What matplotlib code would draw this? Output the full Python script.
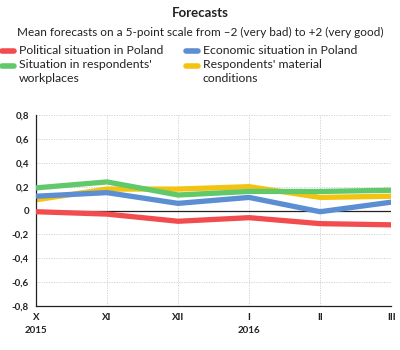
import matplotlib
matplotlib.use("Agg")
import matplotlib.pyplot as plt
from matplotlib.lines import Line2D

plt.rcParams['font.family'] = ['Lato', 'DejaVu Sans']

months = ["X\n2015", "XI", "XII", "I\n2016", "II", "III"]
political = [-0.01, -0.03, -0.09, -0.06, -0.11, -0.12]
economic = [0.12, 0.15, 0.06, 0.11, -0.01, 0.07]
workplaces = [0.19, 0.24, 0.13, 0.16, 0.16, 0.17]
material = [0.09, 0.18, 0.18, 0.20, 0.11, 0.12]

series_names = ["Political situation in Poland", "Economic situation in Poland",
                "Situation in respondents'\nworkplaces", "Respondents' material\nconditions"]

yticks = [-0.8, -0.6, -0.4, -0.2, 0, 0.2, 0.4, 0.6, 0.8]
ytick_labels = ["-0,8", "-0,6", "-0,4", "-0,2", "0", "0,2", "0,4", "0,6", "0,8"]

c_red = "#f24c4f"
c_blue = "#5b8ed2"
c_green = "#62c96a"
c_yellow = "#f3c311"

W, H = 400, 350
fig = plt.figure(figsize=(4, 3.5), dpi=100)
ax = fig.add_axes([0.09, 0.126, 0.888, 0.545])

x = list(range(len(months)))
lw = 3.8
ax.set_axisbelow(True)
ax.axhline(0, color="#222222", lw=0.9, zorder=1.5)
ax.plot(x, material, color=c_yellow, lw=lw, solid_capstyle="butt", zorder=2)
ax.plot(x, workplaces, color=c_green, lw=lw, solid_capstyle="butt", zorder=3)
ax.plot(x, economic, color=c_blue, lw=lw, solid_capstyle="butt", zorder=4)
ax.plot(x, political, color=c_red, lw=lw, solid_capstyle="butt", zorder=5)

ax.set_xlim(0, len(months) - 1)
ax.set_ylim(-0.8, 0.8)
ax.set_yticks(yticks)
ax.set_yticklabels(ytick_labels, fontsize=7, color="#222222")
ax.set_xticks(x)
ax.set_xticklabels(months, fontsize=7, fontweight="bold", linespacing=1.6, color="#222222")
for lab in ax.get_yticklabels():
    lab.set_fontweight("bold")
ax.tick_params(length=0, pad=5)
ax.grid(True, color="#cccccc", ls=(0, (1.5, 1.5)), lw=0.6)
ax.spines["top"].set_visible(False)
ax.spines["right"].set_visible(False)
for s in ("left", "bottom"):
    ax.spines[s].set_color("#222222")
    ax.spines[s].set_linewidth(0.9)

fig.text(0.5, 1 - 13 / H, "Forecasts", ha="center", va="center", fontsize=9.5, fontweight="bold",
         color="#222222")
fig.text(0.5, 1 - 32 / H, "Mean forecasts on a 5-point scale from \u20132 (very bad) to +2 (very good)",
         ha="center", va="center", fontsize=8.5, color="#222222")

legend_items = [
    (series_names[0], c_red, 2, 51),
    (series_names[2], c_green, 2, 66),
    (series_names[1], c_blue, 186, 51),
    (series_names[3], c_yellow, 186, 66),
]
for name, col, px, py in legend_items:
    fig.add_artist(Line2D([px / W, (px + 12) / W], [1 - py / H, 1 - py / H],
                          color=col, lw=4, solid_capstyle="round", transform=fig.transFigure))
    fig.text((px + 17) / W, 1 - (py - 6.5) / H, name, ha="left", va="top",
             fontsize=8.8, linespacing=1.25, color="#222222")

fig.savefig("out.png", dpi=100)
